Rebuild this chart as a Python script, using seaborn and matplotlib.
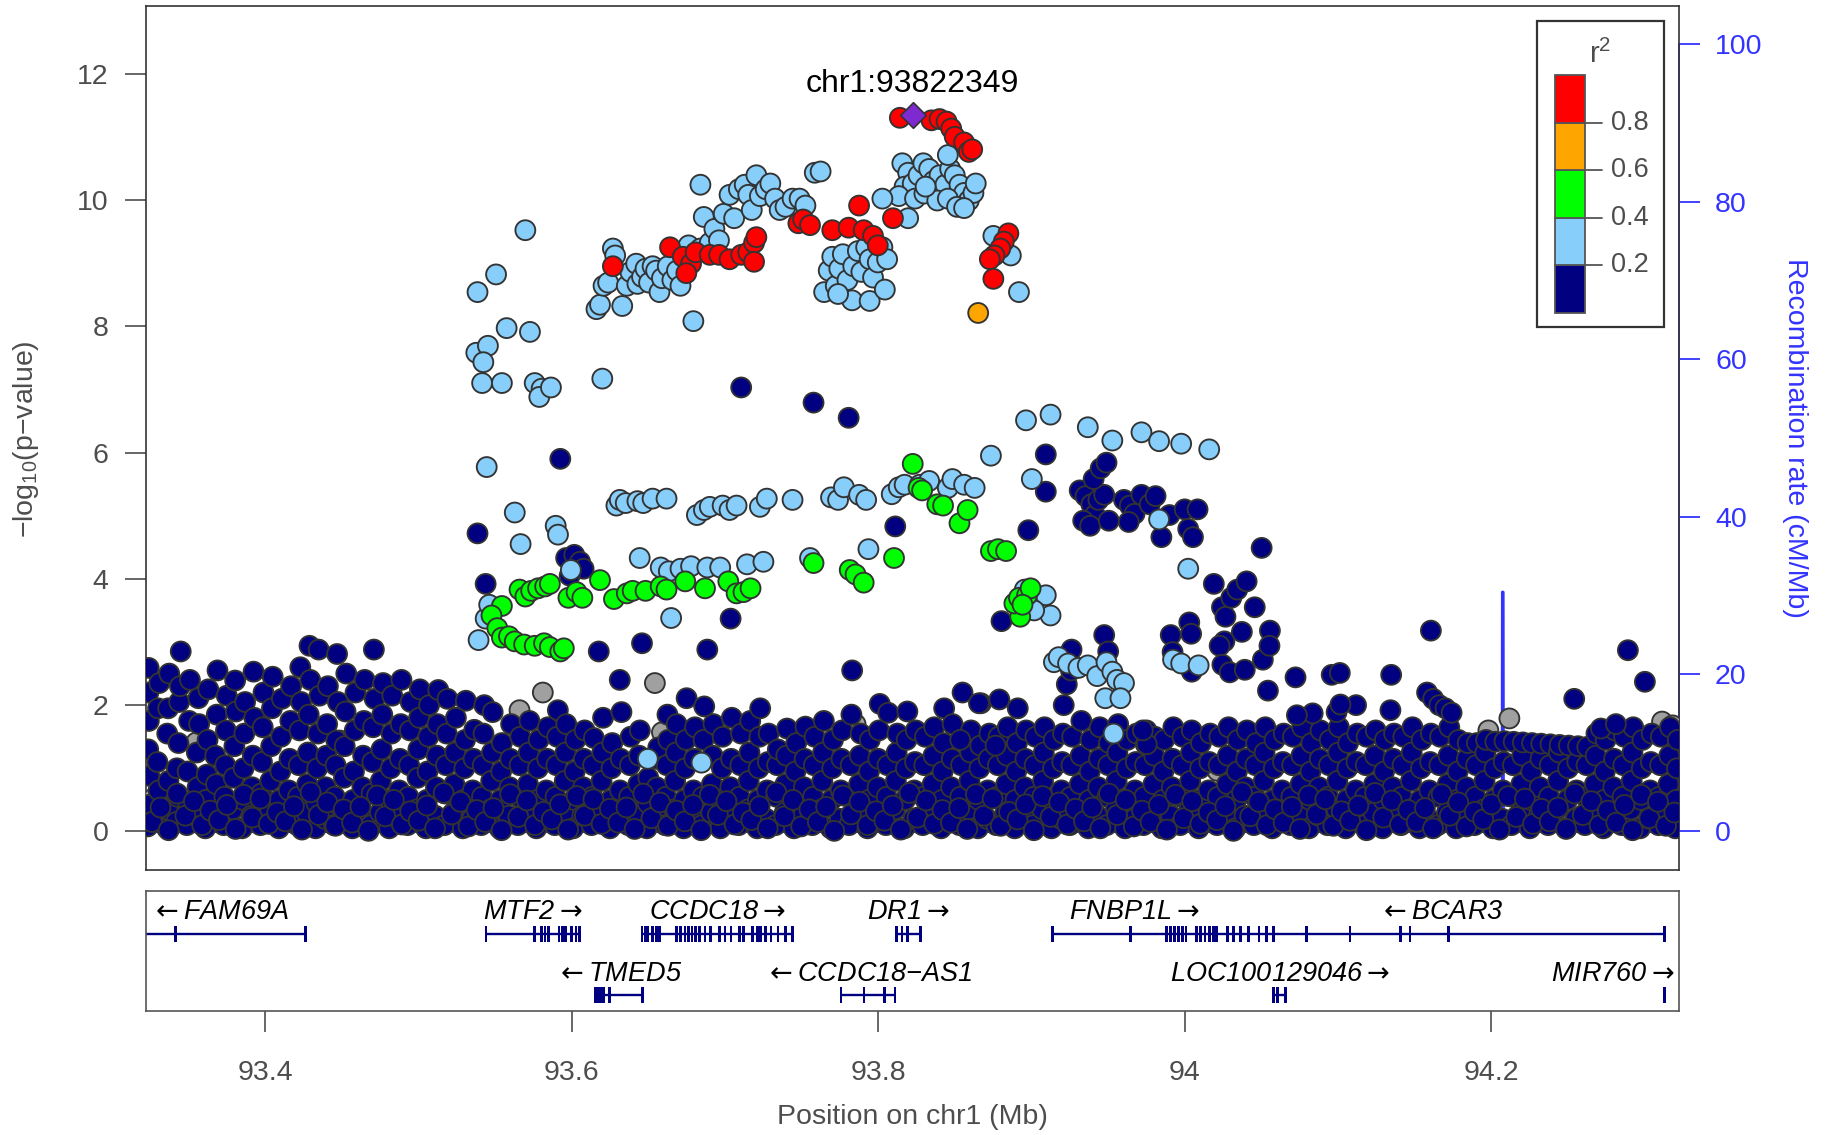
import matplotlib
matplotlib.use("Agg")
import matplotlib.pyplot as plt
import seaborn as sns
import pandas as pd
from matplotlib.patches import Rectangle

# ---------------- data ----------------
lead_pos = [93.822349]
lead_logp = [11.35]
lead_label = "chr1:93822349"

red_pts = [(93.8141,11.30),(93.8347,11.26),(93.8400,11.28),(93.8446,11.24),(93.8476,11.13),(93.8499,11.00),
           (93.8560,10.91),(93.8591,10.76),(93.8613,10.80),(93.7875,9.91),(93.8096,9.71),(93.7700,9.52),
           (93.7807,9.56),(93.7905,9.52),(93.7966,9.43),(93.7997,9.28),(93.7479,9.63),(93.7510,9.69),
           (93.7555,9.60),(93.8849,9.47),(93.8819,9.34),(93.8796,9.23),(93.8758,9.12),(93.8728,9.06),
           (93.8751,8.75),(93.6269,8.95),(93.6642,9.25),(93.6725,9.10),(93.6779,8.99),(93.6748,8.84),
           (93.6809,9.17),(93.6901,9.13),(93.6962,9.13),(93.7030,9.06),(93.7106,9.13),(93.7152,9.17),
           (93.7190,9.32),(93.7205,9.41),(93.7190,9.02)]

orange_pts = [(93.8652,8.21)]

lightblue_pts = [
    (93.5386,8.54),(93.5507,8.82),(93.5698,9.52),(93.5378,7.58),(93.5454,7.69),(93.5424,7.43),(93.5416,7.10),
    (93.5545,7.10),(93.5576,7.97),(93.5728,7.91),(93.5759,7.10),(93.5804,7.01),(93.5789,6.88),(93.5865,7.03),
    (93.6200,7.17),(93.6162,8.27),(93.6185,8.34),(93.6208,8.64),(93.6238,8.69),(93.6269,9.23),(93.6284,9.12),
    (93.6330,8.32),(93.6360,8.64),(93.6383,8.86),(93.6421,8.99),(93.6429,8.67),(93.6459,8.78),(93.6482,8.91),
    (93.6505,8.69),(93.6528,8.95),(93.6551,8.88),(93.6573,8.54),(93.6589,8.76),(93.6627,8.95),(93.6657,8.73),
    (93.6687,8.88),(93.6710,8.64),(93.6763,9.28),(93.6794,8.08),(93.6840,9.23),(93.6862,9.73),(93.6901,9.32),
    (93.6931,9.54),(93.6961,9.36),(93.6840,10.24),(93.6992,9.78),(93.7030,10.08),(93.7060,9.71),(93.7091,10.17),
    (93.7129,10.24),(93.7152,10.08),(93.7175,9.84),(93.7205,10.39),(93.7228,10.06),(93.7266,10.17),(93.7296,10.26),
    (93.7327,10.02),(93.7357,9.84),(93.7395,9.89),(93.7441,10.02),(93.7487,10.02),(93.7525,9.91),(93.7586,10.43),
    (93.7624,10.45),(93.7647,8.54),(93.7677,8.88),(93.7700,9.10),(93.7723,8.64),(93.7746,8.91),(93.7769,9.14),
    (93.7799,8.73),(93.7829,8.41),(93.7837,8.95),(93.7867,9.19),(93.7890,8.86),(93.7921,9.25),(93.7944,9.06),
    (93.7944,8.40),(93.7966,8.77),(93.7997,9.01),(93.8027,9.25),(93.8043,8.58),(93.8058,9.06),(93.7738,8.51),
    (93.8157,10.58),(93.8195,10.43),(93.8172,10.21),(93.8225,10.26),(93.8263,10.39),(93.8294,10.58),(93.8332,10.49),
    (93.8362,10.30),(93.8400,10.39),(93.8438,10.24),(93.8469,10.49),(93.8499,10.39),(93.8530,10.24),(93.8560,10.11),
    (93.8591,9.99),(93.8621,10.11),(93.8636,10.26),(93.8134,10.06),(93.8195,9.71),(93.8240,10.02),(93.8301,10.10),
    (93.8385,9.99),(93.8454,10.02),(93.8514,9.89),(93.8560,9.87),(93.8454,10.71),(93.8309,10.21),(93.8027,10.02),
    (93.8751,9.43),(93.8865,9.12),(93.8918,8.54),
    (93.5446,5.77),(93.5629,5.05),(93.5667,4.55),(93.5896,4.84),(93.5911,4.70),(93.5995,4.14),(93.6292,5.16),
    (93.6314,5.25),(93.6353,5.20),(93.6429,5.23),(93.6467,5.20),(93.6528,5.27),(93.6619,5.27),(93.6444,4.33),
    (93.6649,3.38),(93.6817,5.01),(93.6863,5.09),(93.6901,5.14),(93.6985,5.16),(93.7030,5.09),(93.7076,5.16),
    (93.7228,5.14),(93.7273,5.27),(93.7441,5.25),(93.6581,4.18),(93.6634,4.12),(93.6710,4.16),(93.6779,4.20),
    (93.6885,4.18),(93.6969,4.18),(93.7144,4.23),(93.7251,4.27),(93.7555,4.33),(93.7692,5.29),(93.7738,5.25),
    (93.7776,5.45),(93.7875,5.33),(93.7921,5.25),(93.7936,4.47),(93.8088,5.34),(93.8134,5.45),(93.8172,5.49),
    (93.8271,5.49),(93.8332,5.55),(93.8454,5.44),(93.8484,5.58),(93.8560,5.49),(93.8629,5.44),(93.8735,5.95),
    (93.9002,5.58),(93.8964,6.51),(93.9124,6.60),(93.9367,6.40),(93.9527,6.19),(93.9717,6.32),(93.9832,6.18),
    (93.9976,6.14),(94.0159,6.05),(93.9832,4.94),(94.0022,4.16),(93.9923,2.72),(93.9976,2.66),(94.0090,2.63),
    (93.9146,2.68),(93.9177,2.76),(93.9238,2.66),(93.9306,2.59),(93.9367,2.63),(93.9428,2.46),(93.9489,2.68),
    (93.9527,2.53),(93.9558,2.40),(93.9603,2.35),(93.9481,2.11),(93.9580,2.11),(93.9535,1.55),
    (93.5393,3.03),(93.5439,3.37),(93.5462,3.59),(93.8956,3.83),(93.9093,3.74),(93.9124,3.42),(93.9017,3.50),
    (93.6497,1.15),(93.6847,1.09)]

green_pts = [
    (93.5545,3.57),(93.5477,3.42),(93.5515,3.22),(93.5545,3.07),(93.5591,3.09),(93.5629,3.01),(93.5690,2.96),
    (93.5759,2.94),(93.5820,2.98),(93.5858,2.92),(93.5926,2.85),(93.5949,2.90),
    (93.5660,3.83),(93.5698,3.72),(93.5736,3.81),(93.5781,3.85),(93.5827,3.88),(93.5858,3.92),(93.5979,3.70),
    (93.6032,3.79),(93.6070,3.70),(93.6185,3.98),(93.6276,3.68),(93.6360,3.77),(93.6398,3.81),(93.6482,3.81),
    (93.6581,3.88),(93.6619,3.83),(93.6741,3.96),(93.6870,3.85),(93.7022,3.96),(93.7076,3.77),(93.7121,3.79),
    (93.7167,3.85),(93.7578,4.25),(93.7814,4.14),(93.7852,4.07),(93.7905,3.94),(93.8103,4.33),(93.8225,5.82),
    (93.8263,5.44),(93.8286,5.40),(93.8385,5.18),(93.8423,5.16),(93.8530,4.88),(93.8583,5.09),(93.8735,4.44),
    (93.8781,4.47),(93.8834,4.44),(93.8926,3.40),(93.8888,3.61),(93.8918,3.70),(93.8971,3.74),(93.8994,3.85),
    (93.8941,3.59)]

navy_scatter_pts = [
    (93.5386,4.72),(93.5439,3.92),(93.5926,5.90),(93.5964,4.33),(93.6017,4.38),(93.6055,4.27),(93.6078,4.16),
    (93.5987,4.05),(93.6177,2.85),(93.6314,2.40),(93.6459,2.98),(93.6885,2.88),(93.7037,3.37),(93.7106,7.03),
    (93.7578,6.79),(93.7807,6.55),(93.8111,4.83),(93.8979,4.77),(93.9093,5.97),(93.9093,5.38),(93.8804,3.33),
    (93.9261,2.88),(93.9474,3.11),(93.9230,2.33),(93.9314,5.40),(93.9352,5.31),(93.9390,5.18),(93.9413,5.01),
    (93.9337,4.92),(93.9382,4.84),(93.9436,5.25),(93.9474,5.33),(93.9504,4.92),(93.9405,5.58),(93.9451,5.75),
    (93.9489,5.84),(93.9603,5.25),(93.9641,5.16),(93.9672,5.03),(93.9634,4.90),(93.9717,5.33),(93.9771,5.18),
    (93.9809,5.31),(93.9847,4.66),(93.9900,5.01),(93.9999,5.10),(94.0022,4.79),(94.0053,4.66),(94.0083,5.10),
    (94.0189,3.92),(94.0242,3.55),(94.0265,3.40),(94.0303,3.70),(94.0342,3.83),(94.0403,3.96),(94.0456,3.55),
    (94.0501,4.49),(94.0372,3.16),(94.0258,3.01),(94.0227,2.94),(93.9908,3.11),(94.0029,3.31),(94.0045,2.53),
    (94.0555,3.18),(94.0509,2.72),(94.0722,2.44),(94.0958,2.48),(94.1011,2.51),(94.1346,2.48),(94.1605,3.18),
    (94.2890,2.87),(94.3001,2.37),(94.2540,2.10),(94.1117,2.00),(94.0834,1.87),(94.2714,1.63),(94.2812,1.70),
    (93.8657,2.03),(93.8535,1.45),(93.8765,1.36),(93.9257,2.55),(93.9500,2.85),(93.9752,1.38),(93.9726,1.60),
    (93.9920,2.84),(94.0041,3.13),(94.0245,2.64),(94.0293,2.52),(94.0391,2.56),(94.0552,2.94),(94.0542,2.23),
    (94.0731,1.84),(94.0990,1.89),(94.1015,2.01),(94.1341,1.92),(94.1580,2.20),(94.1620,2.10),(94.1660,2.00),
    (94.1700,1.95),(94.1740,1.88)]

navy_band_pts = [
    (93.3235,0.08),(93.3240,0.42),(93.3245,0.88),(93.3238,1.30),(93.3242,1.75),(93.3239,2.20),(93.3241,2.59),
    (93.3300,0.20),(93.3305,0.65),(93.3298,1.10),(93.3310,2.35),(93.3302,1.95),(93.3360,0.05),(93.3365,0.35),
    (93.3370,0.80),(93.3362,1.55),(93.3375,2.50),(93.3368,1.95),(93.3420,0.15),(93.3430,0.55),(93.3425,1.00),
    (93.3435,1.40),(93.3440,2.05),(93.3450,2.85),(93.3445,2.30),(93.3490,0.10),(93.3500,0.45),(93.3495,0.95),
    (93.3505,1.75),(93.3510,2.40),(93.3550,0.25),(93.3560,0.70),(93.3555,1.25),(93.3565,2.11),(93.3570,1.70),
    (93.3610,0.05),(93.3615,0.50),(93.3620,0.90),(93.3625,1.45),(93.3630,2.25),(93.3670,0.30),(93.3680,0.75),
    (93.3675,1.20),(93.3685,1.85),(93.3690,2.55),
    (93.3730,0.10),(93.3735,0.55),(93.3740,1.05),(93.3745,1.60),(93.3750,2.15),(93.3790,0.35),(93.3795,0.85),
    (93.3800,1.35),(93.3805,2.39),(93.3810,1.90),(93.3850,0.05),(93.3855,0.50),(93.3860,1.00),(93.3865,1.55),
    (93.3870,2.05),(93.3910,0.25),(93.3915,0.70),(93.3920,1.20),(93.3925,2.53),(93.3930,1.80),(93.3970,0.10),
    (93.3975,0.60),(93.3980,1.10),(93.3985,1.65),(93.3990,2.20),(93.4030,0.30),(93.4035,0.80),(93.4040,1.35),
    (93.4045,1.95),(93.4050,2.45),(93.4090,0.05),(93.4095,0.50),(93.4100,0.95),(93.4105,1.50),(93.4110,2.10),
    (93.4150,0.20),(93.4155,0.65),(93.4160,1.15),(93.4165,1.75),(93.4170,2.30),(93.4210,0.10),(93.4215,0.55),
    (93.4220,1.05),(93.4225,1.60),(93.4230,2.60),(93.4235,2.05),
    (93.4270,0.30),(93.4275,0.75),(93.4280,1.25),(93.4285,1.85),(93.4290,2.94),(93.4295,2.40),(93.4330,0.05),
    (93.4335,0.45),(93.4340,1.00),(93.4345,1.55),(93.4350,2.88),(93.4355,2.15),(93.4390,0.20),(93.4395,0.70),
    (93.4400,1.20),(93.4405,1.70),(93.4410,2.30),(93.4450,0.10),(93.4455,0.55),(93.4460,1.05),(93.4465,1.44),
    (93.4470,2.81),(93.4475,2.05),(93.4510,0.35),(93.4515,0.85),(93.4520,1.35),(93.4525,1.90),(93.4530,2.50),
    (93.4570,0.05),(93.4575,0.50),(93.4580,0.95),(93.4585,1.60),(93.4590,2.20),(93.4630,0.25),(93.4635,0.70),
    (93.4640,1.20),(93.4645,1.75),(93.4650,2.40),(93.4690,0.10),(93.4695,0.60),(93.4700,1.10),(93.4705,1.65),
    (93.4710,2.88),(93.4715,2.10),
    (93.4750,0.30),(93.4755,0.80),(93.4760,1.30),(93.4765,1.85),(93.4770,2.35),(93.4810,0.05),(93.4815,0.50),
    (93.4820,1.00),(93.4825,1.55),(93.4830,2.15),(93.4870,0.20),(93.4875,0.65),(93.4880,1.15),(93.4885,1.70),
    (93.4890,2.40),(93.4930,0.10),(93.4935,0.55),(93.4940,1.05),(93.4945,1.60),(93.4950,2.05),(93.4990,0.35),
    (93.4995,0.85),(93.5000,1.30),(93.5005,1.80),(93.5010,2.25),(93.5050,0.05),(93.5055,0.50),(93.5060,0.95),
    (93.5065,1.50),(93.5070,2.00),(93.5110,0.25),(93.5115,0.70),(93.5120,1.20),(93.5125,1.70),(93.5130,2.24),
    (93.5170,0.10),(93.5175,0.60),(93.5180,1.05),(93.5185,1.55),(93.5190,2.10),
    (93.5230,0.30),(93.5235,0.75),(93.5240,1.25),(93.5245,1.80),(93.5290,0.05),(93.5295,0.50),(93.5300,1.00),
    (93.5305,1.45),(93.5310,2.07),(93.5350,0.20),(93.5355,0.65),(93.5360,1.15),(93.5365,1.61),(93.5410,0.10),
    (93.5415,0.55),(93.5420,1.05),(93.5425,1.55),(93.5430,2.00),(93.5470,0.35),(93.5475,0.80),(93.5480,1.25),
    (93.5485,1.89),(93.5530,0.05),(93.5535,0.50),(93.5540,0.95),(93.5545,1.40),(93.5590,0.25),(93.5595,0.70),
    (93.5600,1.15),(93.5605,1.70),(93.5650,0.10),(93.5655,0.55),(93.5660,1.05),(93.5665,1.50),(93.5710,0.30),
    (93.5715,0.75),(93.5720,1.25),(93.5725,1.75),
    (93.5770,0.05),(93.5775,0.50),(93.5780,1.00),(93.5785,1.45),(93.5830,0.20),(93.5835,0.65),(93.5840,1.15),
    (93.5845,1.65),(93.5890,0.10),(93.5895,0.55),(93.5900,1.05),(93.5905,1.50),(93.5910,1.92),(93.5950,0.30),
    (93.5955,0.80),(93.5960,1.25),(93.5965,1.70),(93.6010,0.05),(93.6015,0.50),(93.6020,0.95),(93.6025,1.45),
    (93.6070,0.25),(93.6075,0.70),(93.6080,1.15),(93.6085,1.60),(93.6130,0.10),(93.6135,0.55),(93.6140,1.05),
    (93.6145,1.48),(93.6190,0.35),(93.6195,0.80),(93.6200,1.25),(93.6205,1.80),
    (93.6250,0.05),(93.6255,0.50),(93.6260,1.00),(93.6265,1.40),(93.6310,0.20),(93.6315,0.65),(93.6320,1.15),
    (93.6325,1.89),(93.6370,0.10),(93.6375,0.55),(93.6380,1.05),(93.6385,1.50),(93.6430,0.30),(93.6435,0.75),
    (93.6440,1.20),(93.6445,1.60),(93.6490,0.05),(93.6495,0.45),(93.6500,0.85),(93.6550,0.25),(93.6555,0.70),
    (93.6560,1.15),(93.6565,1.33),(93.6610,0.10),(93.6615,0.55),(93.6620,1.05),(93.6625,1.85),(93.6630,1.45),
    (93.6670,0.35),(93.6675,0.80),(93.6680,1.25),(93.6685,1.70),
    (93.6730,0.05),(93.6735,0.50),(93.6740,1.00),(93.6745,1.45),(93.6750,2.11),(93.6790,0.20),(93.6795,0.65),
    (93.6800,1.15),(93.6805,1.65),(93.6850,0.10),(93.6855,0.55),(93.6860,1.45),(93.6865,1.98),(93.6910,0.30),
    (93.6915,0.75),(93.6920,1.20),(93.6925,1.70),(93.6970,0.05),(93.6975,0.50),(93.6980,1.00),(93.6985,1.50),
    (93.7030,0.25),(93.7035,0.70),(93.7040,1.15),(93.7045,1.80),(93.7090,0.10),(93.7095,0.55),(93.7100,1.05),
    (93.7105,1.55),(93.7150,0.35),(93.7155,0.80),(93.7160,1.25),(93.7165,1.75),
    (93.7210,0.05),(93.7215,0.50),(93.7220,1.00),(93.7225,1.50),(93.7230,1.95),(93.7270,0.20),(93.7275,0.65),
    (93.7280,1.10),(93.7285,1.55),(93.7330,0.10),(93.7335,0.55),(93.7340,1.05),(93.7345,1.30),(93.7390,0.30),
    (93.7395,0.75),(93.7400,1.20),(93.7405,1.63),(93.7450,0.05),(93.7455,0.50),(93.7460,0.95),(93.7465,1.40),
    (93.7510,0.25),(93.7515,0.70),(93.7520,1.15),(93.7525,1.66),(93.7570,0.10),(93.7575,0.55),(93.7580,1.05),
    (93.7585,1.50),(93.7630,0.35),(93.7635,0.80),(93.7640,1.25),(93.7645,1.75),(93.7690,0.05),(93.7695,0.50),
    (93.7700,1.00),(93.7705,1.45),
    (93.7750,0.20),(93.7755,0.65),(93.7760,1.15),(93.7765,1.60),(93.7810,0.10),(93.7815,0.55),(93.7820,1.05),
    (93.7825,1.85),(93.7830,2.55),(93.7870,0.30),(93.7875,0.75),(93.7880,1.20),(93.7885,1.55),(93.7930,0.05),
    (93.7935,0.50),(93.7940,0.95),(93.7945,1.45),(93.7990,0.25),(93.7995,0.70),(93.8000,1.15),(93.8005,1.60),
    (93.8010,2.02),(93.8050,0.10),(93.8055,0.55),(93.8060,1.05),(93.8065,1.88),(93.8110,0.35),(93.8115,0.80),
    (93.8120,1.25),(93.8125,1.55),(93.8170,0.05),(93.8175,0.50),(93.8180,1.00),(93.8185,1.45),(93.8190,1.90),
    (93.8230,0.20),(93.8235,0.65),(93.8240,1.10),(93.8245,1.60),(93.8290,0.10),(93.8295,0.55),(93.8300,1.05),
    (93.8305,1.50),(93.8350,0.30),(93.8355,0.75),(93.8360,1.20),(93.8365,1.65),(93.8410,0.05),(93.8415,0.50),
    (93.8420,0.95),(93.8425,1.40),(93.8430,1.95),(93.8470,0.25),(93.8475,0.70),(93.8480,1.15),(93.8485,1.70),
    (93.8530,0.10),(93.8535,0.55),(93.8540,1.05),(93.8545,1.45),(93.8550,2.20),(93.8590,0.35),(93.8595,0.80),
    (93.8600,1.25),(93.8605,1.60),(93.8650,0.05),(93.8655,0.50),(93.8660,1.00),(93.8665,1.36),(93.8670,2.03),
    (93.8710,0.20),(93.8715,0.65),(93.8720,1.15),(93.8725,1.55),
    (93.8770,0.10),(93.8775,0.55),(93.8780,1.05),(93.8785,1.50),(93.8790,2.09),(93.8830,0.30),(93.8835,0.75),
    (93.8840,1.20),(93.8845,1.65),(93.8890,0.05),(93.8895,0.50),(93.8900,0.95),(93.8905,1.40),(93.8910,1.95),
    (93.8950,0.25),(93.8955,0.70),(93.8960,1.15),(93.8965,1.60),(93.9010,0.10),(93.9015,0.55),(93.9020,1.05),
    (93.9025,1.50),(93.9070,0.35),(93.9075,0.80),(93.9080,1.25),(93.9085,1.65),(93.9130,0.05),(93.9135,0.50),
    (93.9140,1.00),(93.9145,1.45),(93.9190,0.20),(93.9195,0.65),(93.9200,1.10),(93.9205,1.55),(93.9210,2.00),
    (93.9250,0.10),(93.9255,0.55),(93.9260,1.05),(93.9265,1.50),(93.9310,0.30),(93.9315,0.75),(93.9320,1.20),
    (93.9325,1.75),(93.9370,0.05),(93.9375,0.50),(93.9380,0.95),(93.9385,1.45),(93.9430,0.25),(93.9435,0.70),
    (93.9440,1.15),(93.9445,1.65),(93.9490,0.10),(93.9495,0.55),(93.9500,1.05),(93.9505,1.40),(93.9550,0.35),
    (93.9555,0.80),(93.9560,1.25),(93.9565,1.70),(93.9610,0.05),(93.9615,0.50),(93.9620,1.00),(93.9625,1.45),
    (93.9670,0.20),(93.9675,0.65),(93.9680,1.10),(93.9685,1.55),
    (93.9730,0.10),(93.9735,0.55),(93.9740,1.05),(93.9745,1.38),(93.9750,1.60),(93.9790,0.30),(93.9795,0.75),
    (93.9800,1.20),(93.9805,1.50),(93.9850,0.05),(93.9855,0.50),(93.9860,0.95),(93.9865,1.45),(93.9910,0.25),
    (93.9915,0.70),(93.9920,1.15),(93.9925,1.65),(93.9970,0.10),(93.9975,0.55),(93.9980,1.05),(93.9985,1.50),
    (94.0030,0.35),(94.0035,0.80),(94.0040,1.25),(94.0045,1.60),(94.0090,0.05),(94.0095,0.50),(94.0100,1.00),
    (94.0105,1.40),(94.0150,0.20),(94.0155,0.65),(94.0160,1.10),(94.0165,1.55),
    (94.0210,0.10),(94.0215,0.55),(94.0220,1.05),(94.0225,1.50),(94.0270,0.30),(94.0275,0.75),(94.0280,1.20),
    (94.0285,1.65),(94.0330,0.05),(94.0335,0.50),(94.0340,0.95),(94.0345,1.45),(94.0390,0.25),(94.0395,0.70),
    (94.0400,1.15),(94.0405,1.60),(94.0450,0.10),(94.0455,0.55),(94.0460,1.05),(94.0465,1.40),(94.0510,0.35),
    (94.0515,0.80),(94.0520,1.25),(94.0525,1.65),(94.0570,0.05),(94.0575,0.50),(94.0580,1.00),(94.0585,1.45),
    (94.0630,0.20),(94.0635,0.65),(94.0640,1.10),(94.0645,1.55),(94.0690,0.10),(94.0695,0.55),(94.0700,1.05),
    (94.0705,1.50),
    (94.0750,0.30),(94.0755,0.75),(94.0760,1.20),(94.0765,1.65),(94.0810,0.05),(94.0815,0.50),(94.0820,0.95),
    (94.0825,1.40),(94.0870,0.25),(94.0875,0.70),(94.0880,1.15),(94.0885,1.60),(94.0930,0.10),(94.0935,0.55),
    (94.0940,1.05),(94.0945,1.45),(94.0990,0.35),(94.0995,0.80),(94.1000,1.25),(94.1005,1.65),(94.1050,0.05),
    (94.1055,0.50),(94.1060,1.00),(94.1065,1.40),(94.1110,0.20),(94.1115,0.65),(94.1120,1.10),(94.1125,1.55),
    (94.1170,0.10),(94.1175,0.55),(94.1180,1.05),(94.1185,1.50),
    (94.1230,0.30),(94.1235,0.75),(94.1240,1.20),(94.1245,1.60),(94.1290,0.05),(94.1295,0.50),(94.1300,0.95),
    (94.1305,1.45),(94.1350,0.25),(94.1355,0.70),(94.1360,1.15),(94.1365,1.55),(94.1410,0.10),(94.1415,0.55),
    (94.1420,1.05),(94.1425,1.50),(94.1470,0.35),(94.1475,0.80),(94.1480,1.25),(94.1485,1.65),(94.1530,0.05),
    (94.1535,0.50),(94.1540,1.00),(94.1545,1.45),(94.1590,0.20),(94.1595,0.65),(94.1600,1.10),(94.1605,1.55),
    (94.1650,0.10),(94.1655,0.55),(94.1660,1.05),(94.1665,1.50),
    (94.1710,0.30),(94.1715,0.75),(94.1720,1.20),(94.1725,1.65),(94.1770,0.05),(94.1775,0.50),(94.1780,0.95),
    (94.1785,1.45),(94.1830,0.25),(94.1835,0.70),(94.1840,1.15),(94.1845,1.40),(94.1890,0.10),(94.1895,0.55),
    (94.1900,1.05),(94.1905,1.40),(94.1950,0.35),(94.1955,0.80),(94.1960,1.25),(94.1965,1.45),(94.2010,0.05),
    (94.2015,0.50),(94.2020,1.00),(94.2025,1.42),(94.2070,0.20),(94.2075,0.65),(94.2080,1.10),(94.2085,1.43),
    (94.2130,0.10),(94.2135,0.55),(94.2140,1.05),(94.2145,1.42),(94.2190,0.30),(94.2195,0.75),(94.2200,1.20),
    (94.2205,1.41),
    (94.2250,0.05),(94.2255,0.50),(94.2260,0.95),(94.2265,1.40),(94.2310,0.25),(94.2315,0.70),(94.2320,1.15),
    (94.2325,1.39),(94.2370,0.10),(94.2375,0.55),(94.2380,1.05),(94.2385,1.38),(94.2430,0.35),(94.2435,0.80),
    (94.2440,1.25),(94.2445,1.37),(94.2490,0.05),(94.2495,0.50),(94.2500,1.00),(94.2505,1.36),(94.2550,0.20),
    (94.2555,0.65),(94.2560,1.10),(94.2565,1.35),(94.2610,0.10),(94.2615,0.55),(94.2620,1.05),(94.2625,1.34),
    (94.2670,0.30),(94.2675,0.75),(94.2680,1.20),(94.2685,1.55),
    (94.2730,0.05),(94.2735,0.50),(94.2740,0.95),(94.2745,1.45),(94.2790,0.25),(94.2795,0.70),(94.2800,1.15),
    (94.2805,1.60),(94.2850,0.10),(94.2855,0.55),(94.2860,1.05),(94.2865,1.50),(94.2910,0.35),(94.2915,0.80),
    (94.2920,1.25),(94.2925,1.65),(94.2970,0.05),(94.2975,0.50),(94.2980,1.00),(94.2985,1.45),(94.3030,0.20),
    (94.3035,0.65),(94.3040,1.10),(94.3045,1.55),(94.3090,0.10),(94.3095,0.55),(94.3100,1.05),(94.3105,1.50),
    (94.3150,0.30),(94.3155,0.75),(94.3160,1.20),(94.3165,1.65),(94.3200,0.05),(94.3205,0.50),(94.3210,1.00),
    (94.3215,1.45)]

navy_low_pts = [
    (93.3262,0.15),(93.3318,0.38),(93.3371,0.02),(93.3427,0.60),(93.3480,0.25),(93.3536,0.48),(93.3590,0.10),
    (93.3643,0.33),(93.3699,0.18),(93.3752,0.42),(93.3808,0.04),(93.3861,0.58),(93.3917,0.22),(93.3970,0.52),
    (93.4024,0.12),(93.4079,0.30),(93.4133,0.16),(93.4188,0.40),(93.4241,0.03),(93.4297,0.62),(93.4350,0.26),
    (93.4406,0.46),(93.4459,0.09),(93.4513,0.35),(93.4568,0.14),(93.4622,0.39),(93.4675,0.01),(93.4731,0.57),
    (93.4784,0.24),(93.4840,0.50),(93.4893,0.11),(93.4947,0.32),(93.5002,0.17),(93.5056,0.41),(93.5109,0.05),
    (93.5165,0.61),(93.5218,0.27),(93.5274,0.47),(93.5327,0.08),(93.5381,0.34),(93.5436,0.15),(93.5490,0.37),
    (93.5543,0.02),(93.5599,0.59),(93.5652,0.23),(93.5708,0.49),(93.5761,0.10),(93.5815,0.31),(93.5870,0.19),
    (93.5924,0.43),(93.5977,0.03),(93.6033,0.56),(93.6086,0.25),(93.6142,0.51),(93.6195,0.12),(93.6249,0.36),
    (93.6304,0.14),(93.6358,0.38),(93.6411,0.04),(93.6467,0.60),(93.6520,0.21),(93.6576,0.46),(93.6629,0.09),
    (93.6683,0.33),(93.6738,0.16),(93.6792,0.42),(93.6845,0.02),(93.6901,0.58),(93.6954,0.26),(93.7010,0.48),
    (93.7063,0.11),(93.7117,0.30),(93.7172,0.18),(93.7226,0.40),(93.7279,0.05),(93.7335,0.62),(93.7388,0.24),
    (93.7444,0.50),(93.7497,0.08),(93.7551,0.35),(93.7606,0.15),(93.7660,0.39),(93.7713,0.01),(93.7769,0.57),
    (93.7822,0.27),(93.7878,0.47),(93.7931,0.10),(93.7985,0.32),(93.8040,0.17),(93.8094,0.41),(93.8147,0.03),
    (93.8203,0.61),(93.8256,0.22),(93.8312,0.49),(93.8365,0.12),(93.8419,0.34),(93.8474,0.14),(93.8528,0.37),
    (93.8581,0.04),(93.8637,0.59),(93.8690,0.25),(93.8746,0.52),(93.8799,0.09),(93.8853,0.31),(93.8908,0.19),
    (93.8962,0.43),(93.9015,0.02),(93.9071,0.56),(93.9124,0.23),(93.9180,0.46),(93.9233,0.11),(93.9287,0.36),
    (93.9342,0.16),(93.9396,0.38),(93.9449,0.05),(93.9505,0.60),(93.9558,0.26),(93.9614,0.50),(93.9667,0.08),
    (93.9721,0.33),(93.9776,0.15),(93.9830,0.42),(93.9883,0.03),(93.9939,0.58),(93.9992,0.21),(94.0048,0.48),
    (94.0101,0.12),(94.0155,0.30),(94.0210,0.18),(94.0264,0.40),(94.0317,0.01),(94.0373,0.62),(94.0426,0.24),
    (94.0482,0.47),(94.0535,0.10),(94.0589,0.35),(94.0644,0.14),(94.0698,0.39),(94.0751,0.04),(94.0807,0.57),
    (94.0860,0.27),(94.0916,0.51),(94.0969,0.09),(94.1023,0.32),(94.1078,0.17),(94.1132,0.41),(94.1185,0.02),
    (94.1241,0.61),(94.1294,0.22),(94.1350,0.49),(94.1403,0.11),(94.1457,0.34),(94.1512,0.15),(94.1566,0.37),
    (94.1619,0.05),(94.1675,0.59),(94.1728,0.25),(94.1784,0.46),(94.1837,0.08),(94.1891,0.31),(94.1946,0.19),
    (94.2000,0.43),(94.2053,0.03),(94.2109,0.56),(94.2162,0.23),(94.2218,0.52),(94.2271,0.12),(94.2325,0.36),
    (94.2380,0.16),(94.2434,0.38),(94.2487,0.04),(94.2543,0.60),(94.2596,0.26),(94.2652,0.48),(94.2705,0.10),
    (94.2759,0.33),(94.2814,0.14),(94.2868,0.42),(94.2921,0.02),(94.2977,0.58),(94.3030,0.21),(94.3086,0.47),
    (94.3139,0.09),(94.3193,0.30)]

grey_pts = [(93.5660,1.92),(93.5812,2.20),(93.6543,2.35),(93.6589,1.57),(93.4487,1.44),(93.7852,1.70),
            (93.8895,1.46),(94.1781,0.78),(94.2117,1.79),(94.3113,1.74),(94.3182,1.68),(93.3353,0.59),
            (93.3551,1.41),(93.3270,0.52),(93.3376,0.54),(93.3323,0.41),(93.9489,1.28),(94.0212,0.96),
            (94.1980,1.60)]

# recombination rate (cM/Mb)
recomb_pos = [93.3223, 94.1684, 94.1686, 94.1694, 94.1696, 94.2070, 94.2072, 94.2076, 94.2078, 94.3224]
recomb_rate = [0.0, 0.0, 8.8, 8.8, 0.0, 0.0, 30.4, 30.4, 0.0, 0.0]

# genes
gene_name = ["FAM69A", "MTF2", "CCDC18", "DR1", "FNBP1L", "BCAR3",
             "TMED5", "CCDC18-AS1", "LOC100129046", "MIR760"]
gene_start = [93.3077, 93.5441, 93.6459, 93.8117, 93.9137, 94.0208, 93.6152, 93.7757, 94.0580, 94.3125]
gene_end = [93.4262, 93.6051, 93.7443, 93.8274, 94.0208, 94.3127, 93.6463, 93.8110, 94.0657, 94.3129]
gene_strand = ["-", "+", "+", "+", "+", "-", "-", "-", "+", "+"]
gene_row = [1, 1, 1, 1, 1, 1, 2, 2, 2, 2]
gene_exons = [
    [93.3417, 93.4262],
    [93.5441, 93.5759, 93.5804, 93.5827, 93.5849, 93.5917, 93.5939, 93.5962, 93.5999, 93.6029, 93.6051],
    [93.6459, 93.6478, 93.6497, 93.6526, 93.6552, 93.6571, 93.6683, 93.6710, 93.6740, 93.6762, 93.6785,
     93.6807, 93.6833, 93.6870, 93.6908, 93.6964, 93.7001, 93.7039, 93.7095, 93.7122, 93.7181, 93.7212,
     93.7234, 93.7263, 93.7301, 93.7346, 93.7395, 93.7443],
    [93.8117, 93.8155, 93.8192, 93.8274],
    [93.9137, 93.9648, 93.9880, 93.9904, 93.9932, 93.9959, 93.9983, 94.0008, 94.0076, 94.0104, 94.0132,
     94.0159, 94.0187, 94.0208],
    [94.0277, 94.0318, 94.0363, 94.0414, 94.0484, 94.0535, 94.0577, 94.0795, 94.1078, 94.1407, 94.1469,
     94.1721, 94.3127],
    [93.6152, 93.6160, 93.6168, 93.6176, 93.6184, 93.6192, 93.6200, 93.6208, 93.6246, 93.6463],
    [93.7757, 93.7907, 93.8042, 93.8110],
    [94.0580, 94.0605, 94.0657],
    [94.3127]]

ld_breaks = [0.2, 0.4, 0.6, 0.8]
ld_colors = ["#000080", "#87CEFA", "#00FF00", "#FFA500", "#FF0000"]
grey_color = "#A0A0A0"
lead_color = "#7F2AD0"
y_ticks = [0, 2, 4, 6, 8, 10, 12]
recomb_ticks = [0, 20, 40, 60, 80, 100]
x_ticks = [93.4, 93.6, 93.8, 94.0, 94.2]
x_ticklabels = ["93.4", "93.6", "93.8", "94", "94.2"]

# ---------------- styling ----------------
sns.set_style("white")
plt.rcParams["font.family"] = ["Liberation Sans", "DejaVu Sans"]
plt.rcParams["mathtext.fontset"] = "custom"
plt.rcParams["mathtext.rm"] = "Liberation Sans"
plt.rcParams["mathtext.it"] = "Liberation Sans:italic"

GREY_TXT = "#4D4D4D"
BLUE = "#3333FF"
FS = 20.5

W, H = 1831, 1135
fig = plt.figure(figsize=(W / 100, H / 100), dpi=100)
L, R = 146 / W, 1679 / W
ax = fig.add_axes([L, 1 - 870 / H, R - L, 864 / H])
axg = fig.add_axes([L, 1 - 1011 / H, R - L, 120 / H])
ax2 = ax.twinx()
ax.set_zorder(ax2.get_zorder() + 1)
ax.patch.set_visible(False)

XMIN, XMAX = 93.322349, 94.322349
YMIN, YMAX = -0.61, 13.07
scale = 100 / 12.463  # cM/Mb per -log10 unit

# recombination
sns.lineplot(x=recomb_pos, y=recomb_rate, ax=ax2, color=BLUE, lw=2.2, sort=False, estimator=None)
ax2.set_ylim(YMIN * scale, YMAX * scale)
ax2.set_yticks(recomb_ticks)
ax2.tick_params(axis="y", right=True, length=15, width=1.3, color=BLUE, labelcolor=BLUE,
                labelsize=FS, pad=11)
for s in ["top", "left", "bottom"]:
    ax2.spines[s].set_visible(False)
ax2.spines["right"].set_bounds(0, 100)
ax2.spines["right"].set_color(BLUE)
ax2.spines["right"].set_linewidth(1.3)
ax2.set_ylabel("")

# points
def frame(pts, cat):
    return pd.DataFrame({"pos": [p[0] for p in pts], "logp": [p[1] for p in pts], "ld": cat})

df = pd.concat([frame(grey_pts, "NA"),
                frame(navy_band_pts, "0.0-0.2"),
                frame(navy_low_pts, "0.0-0.2"),
                frame(navy_scatter_pts, "0.0-0.2"),
                frame(lightblue_pts, "0.2-0.4"),
                frame(green_pts, "0.4-0.6"),
                frame(orange_pts, "0.6-0.8"),
                frame(red_pts, "0.8-1.0")], ignore_index=True)
cats = ["NA", "0.0-0.2", "0.2-0.4", "0.4-0.6", "0.6-0.8", "0.8-1.0"]
pal = dict(zip(cats, [grey_color] + ld_colors))
sns.scatterplot(data=df, x="pos", y="logp", hue="ld", hue_order=cats, palette=pal, s=205,
                edgecolor="#333333", linewidth=1.35, legend=False, ax=ax, zorder=3)
sns.scatterplot(x=lead_pos, y=lead_logp, marker="D", s=170, color=lead_color, edgecolor="#333333",
                linewidth=1.2, legend=False, ax=ax, zorder=5)
ax.text(lead_pos[0], 11.83, lead_label, ha="center", va="center", fontsize=23, color="black")

ax.set_xlim(XMIN, XMAX)
ax.set_ylim(YMIN, YMAX)
ax.set_yticks(y_ticks)
ax.set_xlabel("")
ax.set_ylabel("")
ax.tick_params(axis="x", bottom=False, labelbottom=False)
ax.tick_params(axis="y", left=True, length=15, width=1.2, color=GREY_TXT, labelcolor=GREY_TXT,
               labelsize=FS, pad=12)
for s in ax.spines.values():
    s.set_color("#333333")
    s.set_linewidth(1.2)

# legend box
lx0, lx1, ly0, ly1 = 0.9074, 0.9902, 0.6285, 0.9826
ax.add_patch(Rectangle((lx0, ly0), lx1 - lx0, ly1 - ly0, transform=ax.transAxes, facecolor="white",
                       edgecolor="#333333", lw=1.6, zorder=10))
bx0, bx1, by0, by1 = 0.9191, 0.9387, 0.6447, 0.9201
bh = (by1 - by0) / len(ld_colors)
for i, c in enumerate(ld_colors):
    ax.add_patch(Rectangle((bx0, by0 + i * bh), bx1 - bx0, bh, transform=ax.transAxes, facecolor=c,
                           edgecolor="#555555", lw=1.3, zorder=11))
for i, b in enumerate(ld_breaks):
    yy = by0 + (i + 1) * bh
    ax.plot([bx1, 0.9497], [yy, yy], transform=ax.transAxes, color="#555555", lw=1.3, zorder=11)
    ax.text(0.9555, yy, f"{b:.1f}", transform=ax.transAxes, ha="left", va="center", fontsize=19.5,
            color=GREY_TXT, zorder=12)
ax.text(0.9485, 0.944, r"r$^{\mathregular{2}}$", transform=ax.transAxes, ha="center", va="center",
        fontsize=21, color=GREY_TXT, zorder=12)

# genes
NAVY = "#000080"
row_line = {1: 0.642, 2: 0.133}
row_text = {1: 0.825, 2: 0.308}
exon_h = 0.14
min_w = 0.0018
axg.set_xlim(XMIN, XMAX)
axg.set_ylim(0, 1)
labels = []
for name, st, en, strand, rw, ex in zip(gene_name, gene_start, gene_end, gene_strand, gene_row, gene_exons):
    yl = row_line[rw]
    axg.hlines(yl, st, en, color=NAVY, lw=1.7)
    axg.broken_barh([(e - min_w / 2, min_w) for e in ex], (yl - exon_h / 2, exon_h),
                    facecolors=NAVY, edgecolors="none")
    nm = name.replace("-", "\u2212")
    txt = (r"$\leftarrow$" + nm) if strand == "-" else (nm + r"$\rightarrow$")
    t = axg.text((st + en) / 2, row_text[rw], txt, ha="center", va="center", fontsize=19.5,
                 style="italic", color="black", math_fontfamily="dejavusans")
    labels.append(t)
for s in axg.spines.values():
    s.set_color("#555555")
    s.set_linewidth(1.2)
axg.set_yticks([])
axg.set_xticks(x_ticks)
axg.set_xticklabels(x_ticklabels)
axg.tick_params(axis="x", bottom=True, length=15, width=1.2, color=GREY_TXT, labelcolor=GREY_TXT,
                labelsize=FS, pad=20)

# keep gene labels inside the gene panel
fig.canvas.draw()
rend = fig.canvas.get_renderer()
abb = axg.get_window_extent(rend)
inv = axg.transData.inverted()
for t in labels:
    bb = t.get_window_extent(rend)
    shift = 0
    if bb.x1 > abb.x1 - 4:
        shift = (abb.x1 - 4) - bb.x1
    elif bb.x0 < abb.x0 + 4:
        shift = (abb.x0 + 4) - bb.x0
    if shift:
        x_disp = axg.transData.transform((t.get_position()[0], 0))[0] + shift
        t.set_x(inv.transform((x_disp, 0))[0])

# axis titles
fig.text(912 / W, 1 - 1117 / H, "Position on chr1 (Mb)", ha="center", va="center", fontsize=FS,
         color=GREY_TXT)
fig.text(26 / W, 1 - 439 / H, "\u2212log$_{\\mathregular{10}}$(p\u2212value)", ha="center", va="center",
         rotation=90, fontsize=FS, color=GREY_TXT)
fig.text(1795 / W, 1 - 438 / H, "Recombination rate (cM/Mb)", ha="center", va="center", rotation=270,
         fontsize=FS, color=BLUE)

fig.savefig("out.png", dpi=100)
